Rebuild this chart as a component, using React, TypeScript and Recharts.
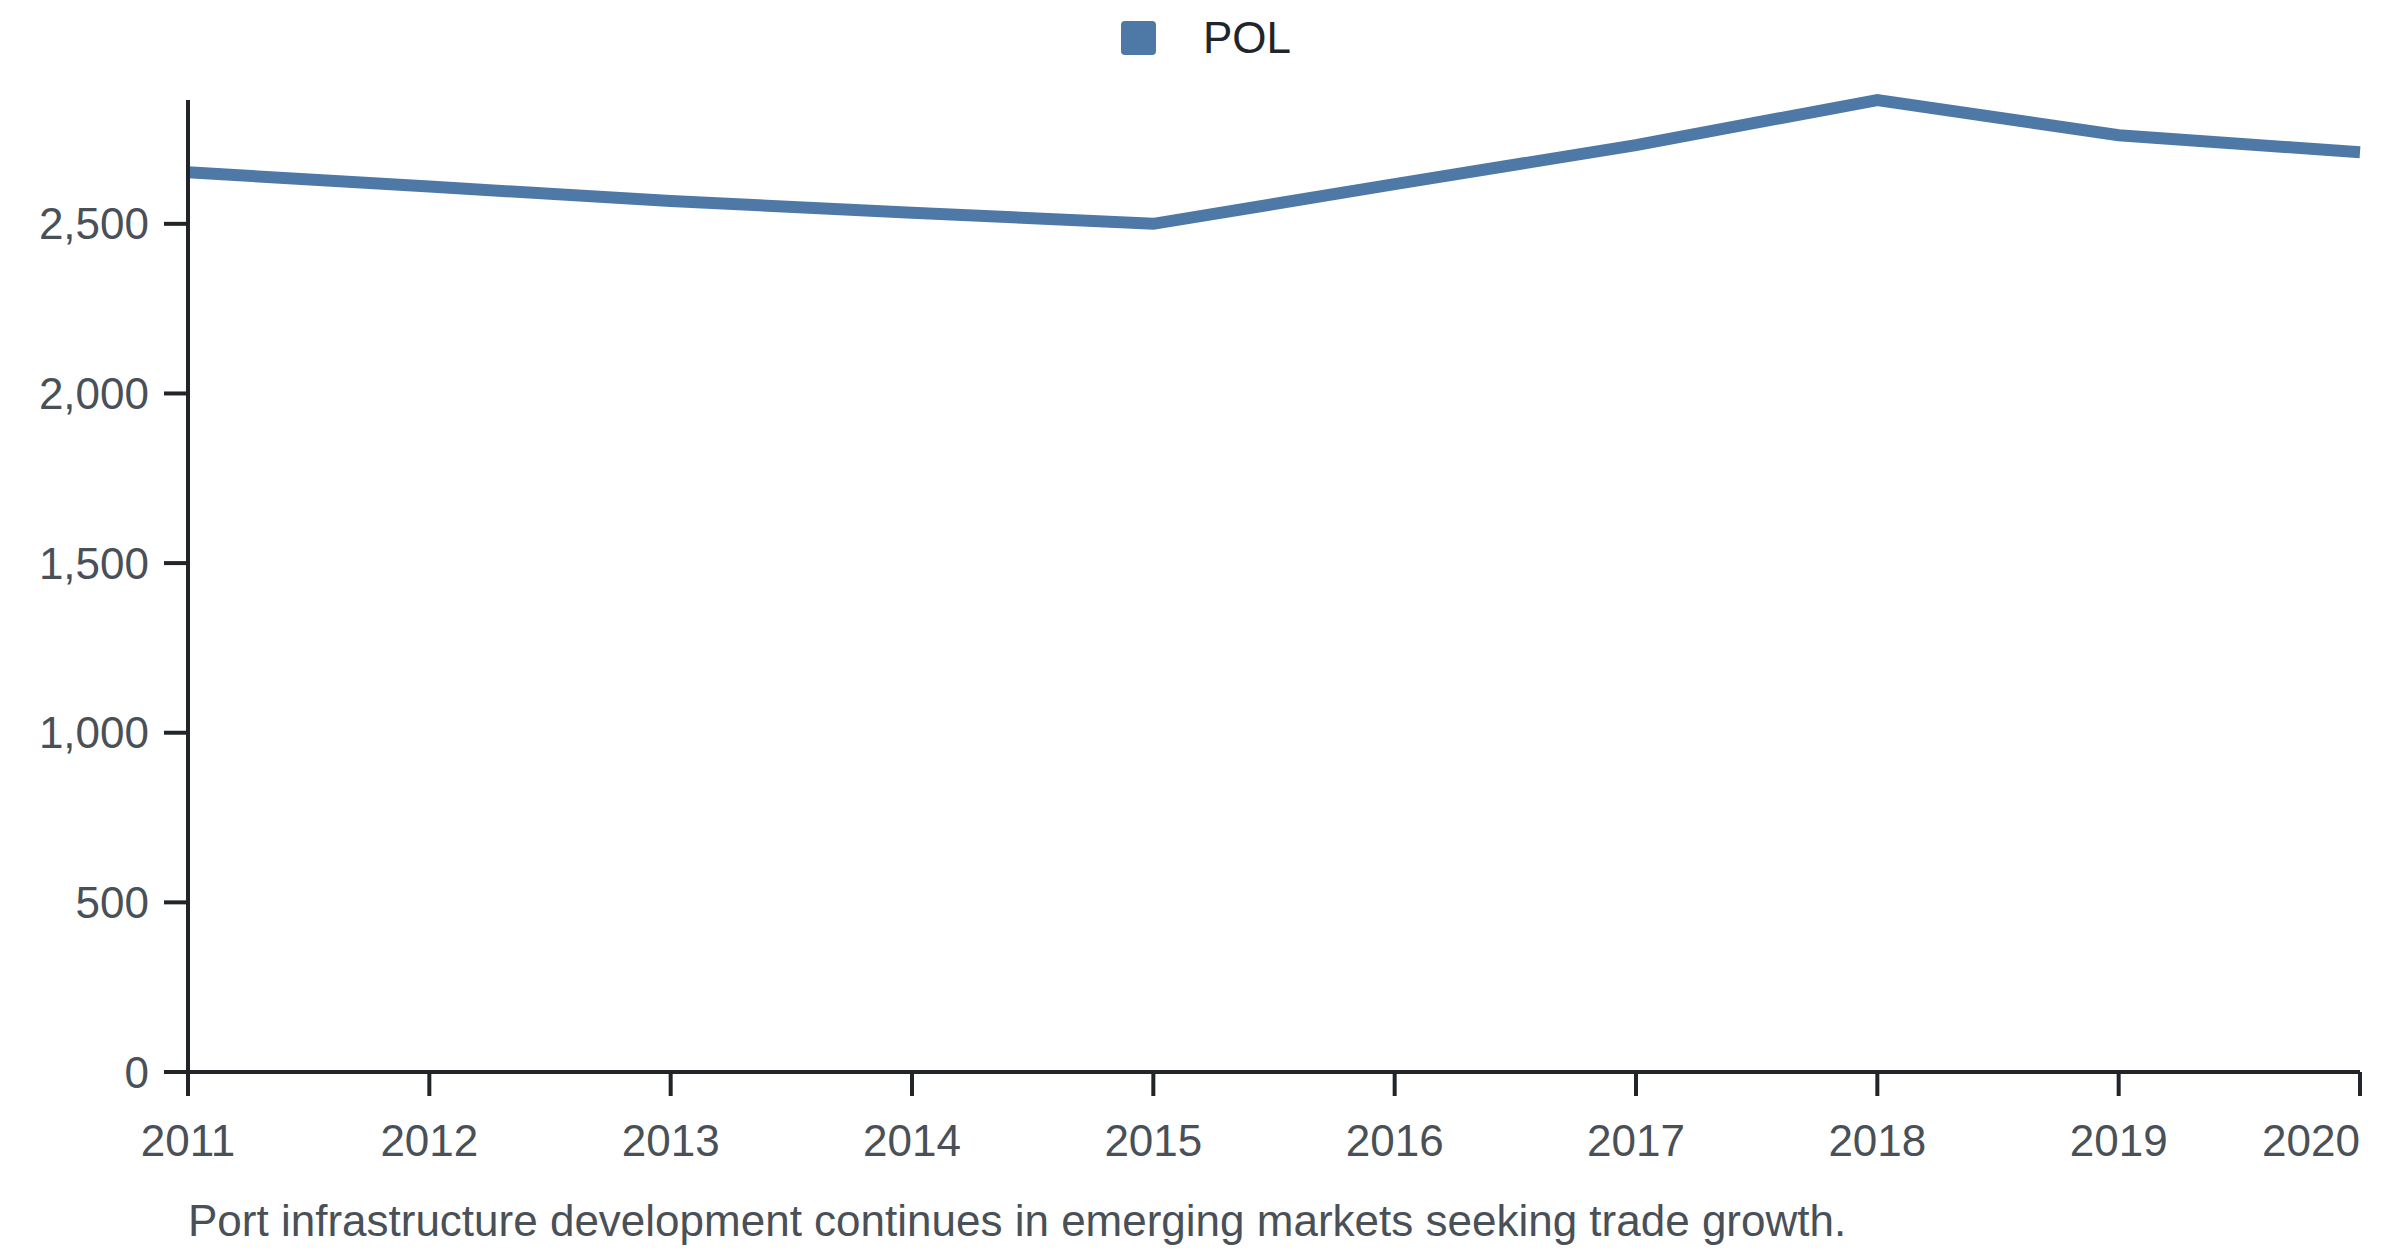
import { Legend, Line, LineChart, XAxis, YAxis } from "recharts";

const years = ["2011", "2012", "2013", "2014", "2015", "2016", "2017", "2018", "2019", "2020"];
const polValues = [2652, 2610, 2567, 2533, 2500, 2617, 2732, 2865, 2761, 2711];
const yTicks = [0, 500, 1000, 1500, 2000, 2500];
const seriesName = "POL";
const caption = "Port infrastructure development continues in emerging markets seeking trade growth.";

const data = years.map((year, i) => ({ year, pol: polValues[i] }));

const FONT = '"Liberation Sans", Arial, sans-serif';
const BLUE = "#4e79a7";
const AXIS = "#212529";
const TICK_TEXT = "#495057";

function XTick(props: any) {
  const { x, y, payload, index } = props;
  const last = index === years.length - 1;
  return (
    <text
      x={x}
      y={y}
      dy="0.71em"
      textAnchor={last ? "end" : "middle"}
      fill={TICK_TEXT}
      fontSize={44}
      fontFamily={FONT}
    >
      {payload.value}
    </text>
  );
}

function YTick(props: any) {
  const { x, y, payload } = props;
  return (
    <text x={x} y={y} dy="0.355em" textAnchor="end" fill={TICK_TEXT} fontSize={44} fontFamily={FONT}>
      {Number(payload.value).toLocaleString("en-US")}
    </text>
  );
}

function LegendBox() {
  return (
    <svg width={2400} height={70} style={{ display: "block" }}>
      <rect x={1121} y={21} width={35} height={34} rx={4} fill={BLUE} />
      <text x={1203} y={53} fontSize={44} fill={AXIS} fontFamily={FONT}>
        {seriesName}
      </text>
    </svg>
  );
}

export default function App() {
  return (
    <div style={{ position: "absolute", left: 0, top: 0, width: 2400, height: 1256, background: "#fff" }}>
      <LineChart
        width={2400}
        height={1256}
        data={data}
        margin={{ top: 100, right: 40, left: 0, bottom: 84 }}
      >
        <XAxis
          dataKey="year"
          height={100}
          interval={0}
          tickSize={24}
          tickMargin={29}
          axisLine={{ stroke: AXIS, strokeWidth: 4 }}
          tickLine={{ stroke: AXIS, strokeWidth: 4 }}
          tick={<XTick />}
        />
        <YAxis
          width={188}
          domain={[0, "dataMax"]}
          ticks={yTicks}
          interval={0}
          tickSize={24}
          tickMargin={15}
          axisLine={{ stroke: AXIS, strokeWidth: 4 }}
          tickLine={{ stroke: AXIS, strokeWidth: 4 }}
          tick={<YTick />}
        />
        <Legend
          verticalAlign="middle"
          layout="horizontal"
          wrapperStyle={{ top: 0, left: 0, width: 2400 }}
          content={() => <LegendBox />}
        />
        <Line
          type="linear"
          dataKey="pol"
          name={seriesName}
          stroke={BLUE}
          strokeWidth={12}
          dot={false}
          activeDot={false}
          isAnimationActive={false}
        />
      </LineChart>
      <div
        style={{
          position: "absolute",
          left: 188,
          top: 1199,
          fontSize: 44,
          lineHeight: "44px",
          fontFamily: FONT,
          color: TICK_TEXT,
          whiteSpace: "nowrap",
        }}
      >
        {caption}
      </div>
    </div>
  );
}
